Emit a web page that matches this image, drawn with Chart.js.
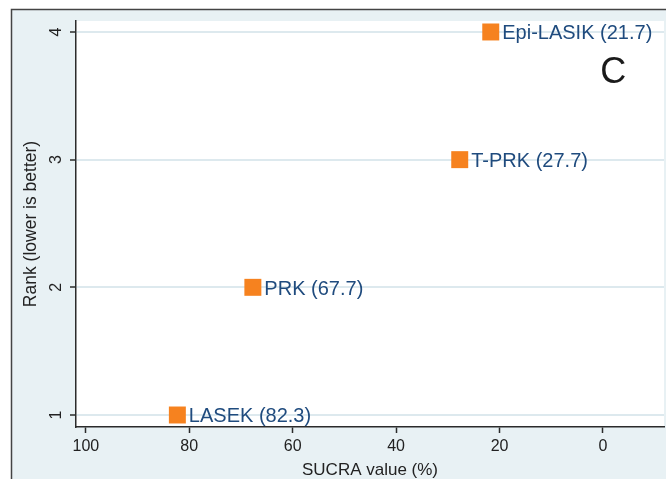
<!DOCTYPE html>
<html>
<head>
<meta charset="utf-8">
<script src="https://cdn.jsdelivr.net/npm/chart.js@4.4.0/dist/chart.umd.min.js"></script>
<style>
  html, body { margin: 0; padding: 0; background: #ffffff; }
  #wrap { width: 666px; height: 479px; }
</style>
</head>
<body>
<div id="wrap"><canvas id="c" width="666" height="479"></canvas></div>
<script>
// ---- data ----
const treatments = ["LASEK", "PRK", "T-PRK", "Epi-LASIK"];
const sucraValues = [82.3, 67.7, 27.7, 21.7];
const ranks = [1, 2, 3, 4];
const xTickValues = [100, 80, 60, 40, 20, 0];
const yTickValues = [1, 2, 3, 4];
const panelLetter = "C";

const FONT = "'Liberation Sans', Arial, Helvetica, sans-serif";
const ORANGE = "#f6821f";
const LABEL_BLUE = "#1f4b7e";
const BG_BLUE = "#e8f1f4";
const GRID_BLUE = "#dde9ee";
const AXIS_DARK = "#2b2b2b";

const points = sucraValues.map((v, i) => ({ x: v, y: ranks[i] }));

const backgroundPlugin = {
  id: 'bg',
  beforeDraw(chart) {
    const { ctx, chartArea: a } = chart;
    ctx.save();
    ctx.fillStyle = '#ffffff';
    ctx.fillRect(0, 0, chart.width, chart.height);
    ctx.fillStyle = BG_BLUE;
    ctx.fillRect(11, 9, chart.width - 11, chart.height - 9);
    ctx.strokeStyle = '#444444';
    ctx.lineWidth = 1.5;
    ctx.beginPath();
    ctx.moveTo(11.5, chart.height);
    ctx.lineTo(11.5, 9.5);
    ctx.lineTo(chart.width, 9.5);
    ctx.stroke();
    ctx.fillStyle = '#ffffff';
    ctx.fillRect(a.left, a.top, a.right - a.left, a.bottom - a.top);
    ctx.restore();
  }
};

const labelPlugin = {
  id: 'pointLabels',
  afterDatasetsDraw(chart) {
    const { ctx } = chart;
    const meta = chart.getDatasetMeta(0);
    ctx.save();
    ctx.font = "20px " + FONT;
    ctx.fillStyle = LABEL_BLUE;
    ctx.textAlign = 'left';
    ctx.textBaseline = 'alphabetic';
    meta.data.forEach((el, i) => {
      const txt = treatments[i] + " (" + sucraValues[i].toFixed(1) + ")";
      ctx.fillText(txt, el.x + 11.5, el.y + 7.5);
    });
    // panel letter
    const xs = chart.scales.x, ys = chart.scales.y;
    ctx.font = "36px " + FONT;
    ctx.fillStyle = "#1a1a1a";
    ctx.textAlign = 'center';
    ctx.fillText(panelLetter, xs.getPixelForValue(-2), ys.getPixelForValue(3.7) + 13);
    ctx.restore();
  }
};

new Chart(document.getElementById('c'), {
  type: 'scatter',
  data: {
    datasets: [{
      data: points,
      pointStyle: 'rect',
      pointRadius: 12,
      pointHoverRadius: 12,
      pointBorderWidth: 0,
      backgroundColor: ORANGE,
      borderColor: ORANGE
    }]
  },
  options: {
    responsive: false,
    animation: false,
    events: [],
    layout: { autoPadding: false, padding: { left: 0, top: 21, right: 2, bottom: 0 } },
    plugins: {
      legend: { display: false },
      tooltip: { enabled: false }
    },
    scales: {
      x: {
        type: 'linear',
        reverse: true,
        min: -11.8,
        max: 101.9,
        afterBuildTicks(scale) { scale.ticks = xTickValues.map(v => ({ value: v })); },
        afterFit(scale) { scale.height = 52; scale.paddingLeft = 0; scale.paddingRight = 0; },
        grid: {
          display: true,
          drawOnChartArea: false,
          drawTicks: true,
          tickLength: 6,
          tickColor: AXIS_DARK,
          tickWidth: 1.5
        },
        border: { display: true, color: AXIS_DARK, width: 1.5 },
        ticks: {
          color: '#222222',
          font: { family: FONT, size: 16 },
          padding: 4,
          maxRotation: 0,
          minRotation: 0,
          callback: v => String(v)
        },
        title: {
          display: true,
          text: 'SUCRA value (%)',
          color: '#222222',
          font: { family: FONT, size: 17, lineHeight: 1 },
          padding: { top: 0, bottom: 0 }
        }
      },
      y: {
        type: 'linear',
        min: 0.906,
        max: 4.086,
        afterBuildTicks(scale) { scale.ticks = yTickValues.map(v => ({ value: v })); },
        afterFit(scale) { scale.width = 76; scale.paddingTop = 0; scale.paddingBottom = 0; },
        grid: {
          display: true,
          drawOnChartArea: true,
          color: GRID_BLUE,
          lineWidth: 2,
          drawTicks: true,
          tickLength: 6,
          tickColor: AXIS_DARK,
          tickWidth: 1.5
        },
        border: { display: true, color: AXIS_DARK, width: 1.5 },
        ticks: {
          color: '#222222',
          font: { family: FONT, size: 16 },
          padding: 9,
          minRotation: 90,
          maxRotation: 90,
          crossAlign: 'center',
          callback: v => String(v)
        },
        title: {
          display: true,
          text: 'Rank (lower is better)',
          color: '#222222',
          font: { family: FONT, size: 17.5, lineHeight: 1 },
          padding: { top: 22, bottom: 0 }
        }
      }
    }
  },
  plugins: [backgroundPlugin, labelPlugin]
});
</script>
</body>
</html>
